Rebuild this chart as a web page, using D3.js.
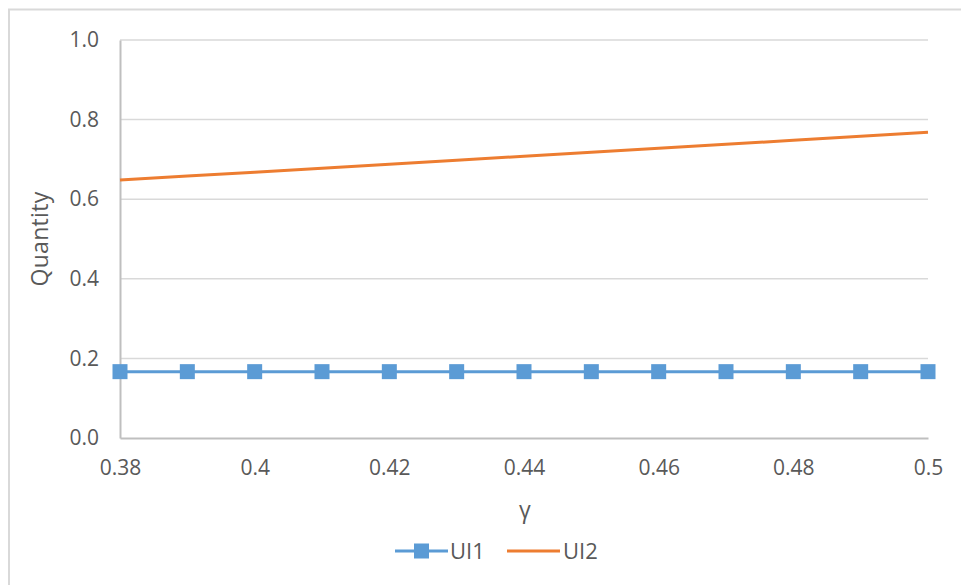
<!DOCTYPE html>
<html>
<head>
<meta charset="utf-8">
<script src="https://cdn.jsdelivr.net/npm/d3@7/dist/d3.min.js"></script>
<style>
  html, body { margin: 0; padding: 0; background: #fff; }
  svg { display: block; }
  svg text { font-family: "Open Sans", "Liberation Sans", sans-serif; }
</style>
</head>
<body>
<svg id="chart" width="961" height="585"></svg>
<script>
// Data
const gamma = [0.38, 0.39, 0.40, 0.41, 0.42, 0.43, 0.44, 0.45, 0.46, 0.47, 0.48, 0.49, 0.50];
const ui1 = [0.1667, 0.1667, 0.1667, 0.1667, 0.1667, 0.1667, 0.1667, 0.1667, 0.1667, 0.1667, 0.1667, 0.1667, 0.1667];
const ui2 = [0.648, 0.658, 0.668, 0.678, 0.688, 0.698, 0.708, 0.718, 0.728, 0.738, 0.748, 0.758, 0.768];
const xTicks = [0.38, 0.40, 0.42, 0.44, 0.46, 0.48, 0.50];
const yTicks = [0, 0.2, 0.4, 0.6, 0.8, 1.0];
const seriesNames = ["UI1", "UI2"];

const svg = d3.select("#chart");
const margin = { left: 120, right: 33, top: 40, bottom: 147 };
const W = 961, H = 585;
const textColor = "#595959";
const fontFamily = "'Open Sans', 'Liberation Sans', sans-serif";

const x = d3.scaleLinear().domain([0.38, 0.50]).range([margin.left, W - margin.right]);
const y = d3.scaleLinear().domain([0, 1]).range([H - margin.bottom, margin.top]);

// Outer frame
svg.append("path")
  .attr("d", "M9,585 V9.5 H961")
  .attr("fill", "none").attr("stroke", "#d9d9d9").attr("stroke-width", 2);

// Horizontal gridlines
svg.append("g")
  .selectAll("line").data(yTicks.filter(d => d > 0)).join("line")
  .attr("x1", x.range()[0]).attr("x2", x.range()[1])
  .attr("y1", d => y(d)).attr("y2", d => y(d))
  .attr("stroke", "#d9d9d9").attr("stroke-width", 1.5);

// Y axis
const yAxis = svg.append("g").attr("transform", `translate(${margin.left},0)`)
  .call(d3.axisLeft(y).tickValues(yTicks).tickFormat(d3.format(".1f")).tickSize(0).tickPadding(21));
yAxis.attr("font-family", fontFamily).attr("font-size", 21);
yAxis.select(".domain").attr("stroke", "#bfbfbf").attr("stroke-width", 2);
yAxis.selectAll("text").attr("fill", textColor);

// X axis
const xAxis = svg.append("g").attr("transform", `translate(0,${y(0)})`)
  .call(d3.axisBottom(x).tickValues(xTicks).tickFormat(d => String(+d.toFixed(2))).tickSize(0).tickPadding(22));
xAxis.attr("font-family", fontFamily).attr("font-size", 21);
xAxis.select(".domain").attr("stroke", "#bfbfbf").attr("stroke-width", 2);
xAxis.selectAll("text").attr("fill", textColor);

// Axis titles
svg.append("text")
  .attr("transform", `translate(48,${(y(0) + y(1)) / 2}) rotate(-90)`)
  .attr("text-anchor", "middle").attr("fill", textColor).style("font-size", "23px")
  .style("letter-spacing", "0.3px")
  .text("Quantity");
svg.append("text")
  .attr("x", (x.range()[0] + x.range()[1]) / 2 + 1).attr("y", 518)
  .attr("text-anchor", "middle").attr("fill", textColor).style("font-size", "23px")
  .text("γ");

const line = d3.line().x(d => x(d[0])).y(d => y(d[1]));

// UI2 series
svg.append("path")
  .datum(gamma.map((g, i) => [g, ui2[i]]))
  .attr("d", line).attr("fill", "none")
  .attr("stroke", "#ed7d31").attr("stroke-width", 3);

// UI1 series with square markers
const ui1Pts = gamma.map((g, i) => [g, ui1[i]]);
svg.append("path")
  .datum(ui1Pts)
  .attr("d", line).attr("fill", "none")
  .attr("stroke", "#5b9bd5").attr("stroke-width", 3);
svg.append("g").selectAll("rect").data(ui1Pts).join("rect")
  .attr("x", d => x(d[0]) - 7.5).attr("y", d => y(d[1]) - 7.5)
  .attr("width", 15).attr("height", 15)
  .attr("fill", "#5b9bd5");

// Legend
const lg = svg.append("g").attr("transform", "translate(0,551)");
lg.append("line").attr("x1", 395).attr("x2", 448).attr("y1", 0).attr("y2", 0)
  .attr("stroke", "#5b9bd5").attr("stroke-width", 3);
lg.append("rect").attr("x", 414).attr("y", -7.5).attr("width", 15).attr("height", 15).attr("fill", "#5b9bd5");
lg.append("text").attr("x", 450).attr("y", 8).attr("fill", textColor).style("font-size", "22px").text(seriesNames[0]);
lg.append("line").attr("x1", 507).attr("x2", 560).attr("y1", 0).attr("y2", 0)
  .attr("stroke", "#ed7d31").attr("stroke-width", 3);
lg.append("text").attr("x", 563).attr("y", 8).attr("fill", textColor).style("font-size", "22px").text(seriesNames[1]);
</script>
</body>
</html>
